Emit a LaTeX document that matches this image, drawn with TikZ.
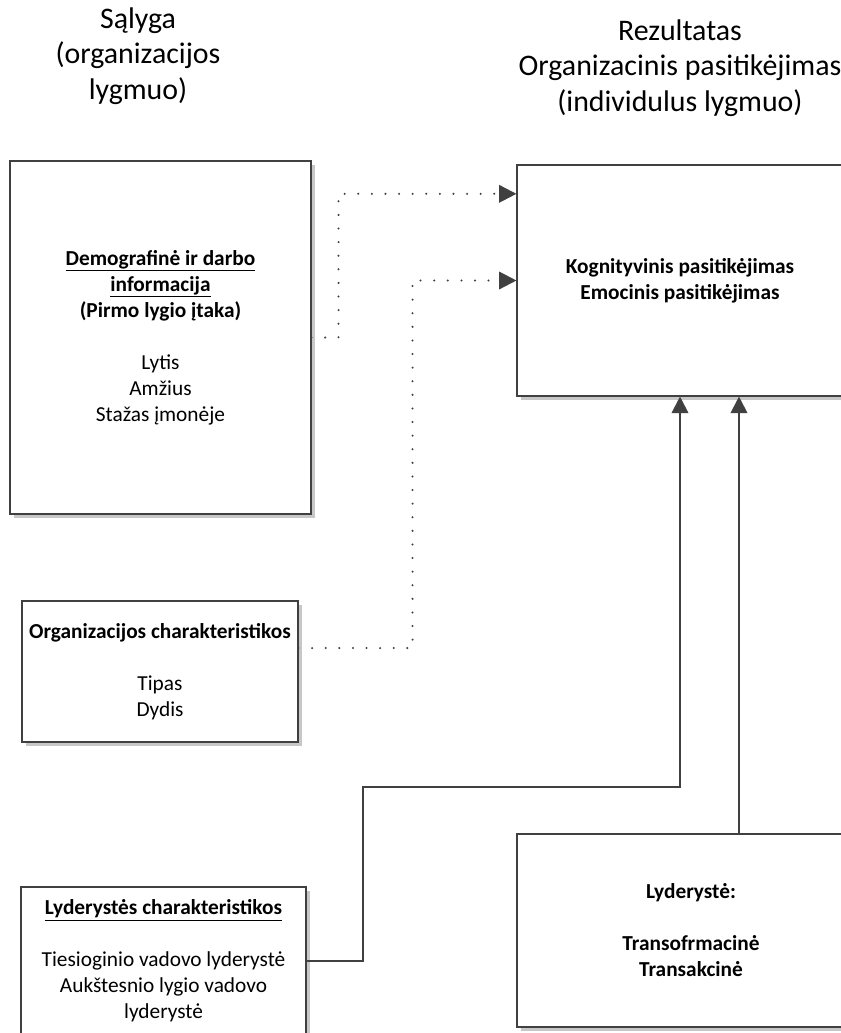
\documentclass[tikz,border=0pt]{standalone}
\usepackage{fontspec}
\setmainfont{Carlito}
\usetikzlibrary{arrows.meta,shadows}
\definecolor{linegray}{HTML}{404040}

\tikzset{
  factor/.style={draw=linegray, line width=0.8pt, fill=white, align=center,
    font=\fontsize{16}{19.5}\selectfont, inner sep=0pt,
    drop shadow={shadow xshift=3pt, shadow yshift=-3pt, fill=black!22, opacity=1}},
  heading/.style={align=center, font=\fontsize{22.4}{26.5}\selectfont},
  dotlink/.style={draw=linegray, line width=1.7pt, line cap=round,
    dash pattern=on 0pt off 10.2pt, -{Triangle[length=13pt,width=13pt]},
    every arrow/.append style={solid}},
  solidlink/.style={draw=linegray, line width=1.5pt, -{Triangle[length=12.5pt,width=12.5pt]}},
  plainlink/.style={draw=linegray, line width=1.5pt}
}

\begin{document}
\begin{tikzpicture}[x=0.75pt, y=-0.75pt]
    % Size of the page
        \clip (0,0) rectangle (841,1033);

    % First, the two column titles
        \node[heading] (cond) at (138,56) {Sąlyga\\(organizacijos\\lygmuo)};
        \node[heading] (outc) at (680,68) {Rezultatas\\Organizacinis pasitikėjimas\\(individulus lygmuo)};

    % Now locate each of the boxes and name them
        \node[factor, minimum width=225.75pt, minimum height=264.75pt] (demo) at (160.5,337.5)
            {\textbf{\underline{Demografinė ir darbo}}\\\textbf{\underline{informacija}}\\\textbf{(Pirmo lygio įtaka)}\\[19.5pt]Lytis\\Amžius\\Stažas įmonėje};
        \node[factor, minimum width=207pt, minimum height=105.75pt] (org) at (160,671.5)
            {\textbf{Organizacijos charakteristikos}\\[19.5pt]Tipas\\Dydis};
        \node[factor, minimum width=213.75pt, minimum height=111pt] (lyd) at (163.5,961)
            {\textbf{\underline{Lyderystės charakteristikos}}\\[19.5pt]Tiesioginio vadovo lyderystė\\Aukštesnio lygio vadovo\\lyderystė};
        \node[factor, minimum width=244.5pt, minimum height=173.25pt] (res) at (680,280.5)
            {\textbf{Kognityvinis pasitikėjimas}\\\textbf{Emocinis pasitikėjimas}};
        \node[factor, minimum width=261pt, minimum height=144.75pt] (lead) at (691,930.5)
            {\textbf{Lyderystė:}\\[19.5pt]\textbf{Transofrmacinė}\\\textbf{Transakcinė}};

    % Now draw the links:
        \draw[dotlink] (demo.east) -- ++(27,0) |- ([yshift=65pt]res.west);
        \draw[dotlink] ([yshift=17.6pt]org.east) -- ++(114,0) |- (res.west);
        \draw[solidlink] (lyd.east) -- ++(56,0) -- ++(0,-174) -| (res.south);
        \draw[solidlink] ([xshift=36pt]lead.north) -- ([xshift=36pt]lead.north |- res.south);
    \end{tikzpicture}
\end{document}
